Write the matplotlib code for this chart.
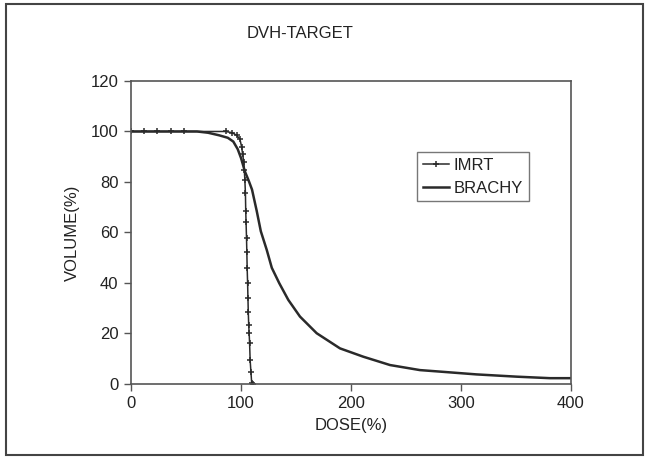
import matplotlib
matplotlib.use("Agg")
import matplotlib.pyplot as plt
from matplotlib.patches import Rectangle

plt.rcParams['font.family'] = ['Liberation Sans', 'DejaVu Sans']

# IMRT curve (dose %, volume %)
imrt_dose = [0, 12, 24, 36, 48, 86, 92, 96, 99, 100.5, 101.5, 102.5, 103, 103.5, 104,
             104.3, 104.6, 105, 105.3, 105.6, 106, 106.3, 106.6, 107, 107.4, 107.8,
             108.3, 109, 109.7, 110.5]
imrt_vol = [100, 100, 100, 100, 100, 100, 99.5, 98.5, 97, 94, 91, 88, 84.8, 80.8, 75.8,
            68.6, 64, 57.9, 52.2, 45.8, 39.9, 34.2, 28.6, 23.4, 20.2, 16.2,
            9.5, 4.9, 0.5, 0]

# BRACHY curve
brachy_dose = [0, 60, 70, 80, 88, 93, 97, 100, 103.6, 107, 110, 114.3, 118, 123.4,
               128, 134.8, 143, 153.6, 168.8, 190, 211.2, 235.5, 262.7, 281, 314,
               350.6, 381, 400]
brachy_vol = [100, 100, 99.5, 98.5, 97.5, 96, 93, 89.5, 84.1, 80.5, 77, 68.5, 60.5, 53.1,
              46, 39.9, 33.3, 26.7, 20.1, 14.1, 10.8, 7.5, 5.5, 4.9, 3.8,
              2.9, 2.3, 2.3]

xticks = [0, 100, 200, 300, 400]
yticks = [0, 20, 40, 60, 80, 100, 120]

fig = plt.figure(figsize=(6.47, 4.58), dpi=100)
ax = fig.add_axes([0.2025, 0.1616, 0.68, 0.6616])

ax.plot(imrt_dose, imrt_vol, color='#2a2a2a', lw=1.1, marker='+', ms=5, mew=1.1,
        label='IMRT')
ax.plot(brachy_dose, brachy_vol, color='#2a2a2a', lw=1.8, label='BRACHY')

ax.set_xlim(0, 400)
ax.set_ylim(0, 120)
ax.set_xticks(xticks)
ax.set_yticks(yticks)
ax.tick_params(direction='out', length=5, width=1, color='#555555',
               labelsize=12, pad=4, labelcolor='#222222')
for s in ax.spines.values():
    s.set_color('#555555')
    s.set_linewidth(1.2)

ax.set_xlabel('DOSE(%)', fontsize=12, labelpad=5, color='#222222')
ax.set_ylabel('VOLUME(%)', fontsize=12, labelpad=8, color='#222222')

leg = ax.legend(loc='upper left', bbox_to_anchor=(0.65, 0.765), fontsize=12,
                frameon=True, fancybox=False, handlelength=1.6, handletextpad=0.25,
                borderpad=0.35, labelspacing=0.45, borderaxespad=0)
leg.get_frame().set_edgecolor('#555555')
leg.get_frame().set_linewidth(1.0)
for t in leg.get_texts():
    t.set_color('#222222')

fig.text(300 / 647, 1 - 33 / 458, 'DVH-TARGET', ha='center', va='center',
         fontsize=12, color='#222222')

# outer frame around the whole figure
fig.patches.append(Rectangle((6 / 647, 3 / 458), 637 / 647, 451 / 458,
                             transform=fig.transFigure, fill=False,
                             edgecolor='#444444', lw=1.5))

fig.savefig('out.png', dpi=100)
